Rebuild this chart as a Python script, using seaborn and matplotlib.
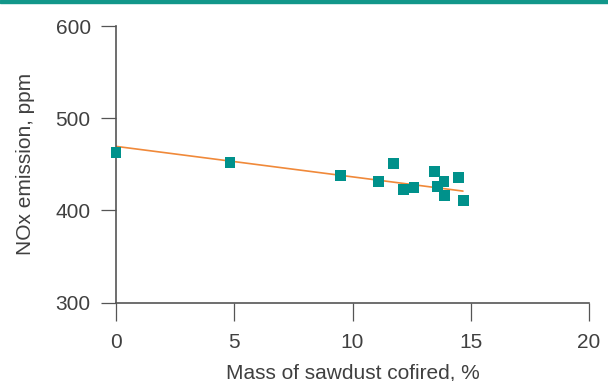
import matplotlib
matplotlib.use("Agg")
import matplotlib.pyplot as plt
import seaborn as sns
import pandas as pd
from matplotlib.patches import Rectangle

# Data
sawdust_pct = [0.0, 4.82, 9.51, 11.08, 11.75, 12.14, 12.6, 13.45, 13.6, 13.87, 13.9, 14.5, 14.7]
nox_ppm = [463, 452.5, 438.4, 431.9, 451.4, 423.2, 425.4, 442.7, 426.4, 431.9, 416.7, 436.2, 411.3]
trend_x = [0.0, 14.67]
trend_y = [469.5, 421.0]
x_ticks = [0, 5, 10, 15, 20]
y_ticks = [300, 400, 500, 600]

TEAL = "#00918b"
ORANGE = "#f0893a"
TXT = "#404040"
AX = "#555555"

sns.set_theme(style="white")
plt.rcParams["font.family"] = ["Liberation Sans", "DejaVu Sans"]

fig = plt.figure(figsize=(6.08, 3.81), dpi=100)
ax = fig.add_axes([116/608, 1-302.7/381, (589-116)/608, (302.7-26)/381])

fig.patches.append(Rectangle((0, 1-3/381), 1, 3/381, transform=fig.transFigure,
                             color="#12978a", zorder=10))

df = pd.DataFrame({"x": sawdust_pct, "y": nox_ppm})
sns.lineplot(x=trend_x, y=trend_y, ax=ax, color=ORANGE, linewidth=1.2, zorder=2)
sns.scatterplot(data=df, x="x", y="y", ax=ax, marker="s", s=62, color=TEAL,
                edgecolor="none", linewidth=0, zorder=3, clip_on=False)

ax.set_xlim(0, 20)
ax.set_ylim(300, 600)
ax.set_xticks(x_ticks)
ax.set_yticks(y_ticks)
for s in ["top", "right"]:
    ax.spines[s].set_visible(False)
for s in ["left", "bottom"]:
    ax.spines[s].set_color(AX)
    ax.spines[s].set_linewidth(1.2)
ax.tick_params(axis="y", left=True, direction="out", length=11, width=0.9, color=AX,
               pad=7.2, labelsize=15, labelcolor=TXT)
ax.tick_params(axis="x", bottom=True, direction="out", length=13, width=0.9, color=AX,
               pad=9, labelsize=15, labelcolor=TXT)
ax.set_xlabel("Mass of sawdust cofired, %", fontsize=15, color=TXT, labelpad=8)
ax.set_ylabel("NOx emission, ppm", fontsize=15, color=TXT, labelpad=15)

fig.savefig("out.png", dpi=100)
